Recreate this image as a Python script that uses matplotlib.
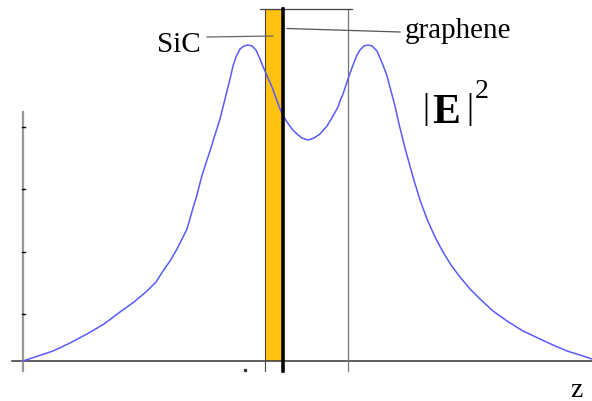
import numpy as np
import matplotlib.pyplot as plt

plt.rcParams['font.family'] = ['Liberation Serif', 'DejaVu Serif']

# field intensity profile across the structure (z in a.u., |E|^2 in a.u.)
z = np.array([0, 15, 30, 47, 64, 81, 97, 111, 124, 133, 140, 147, 154, 159, 164,
              170, 174, 178, 182, 187, 191, 197, 202, 207, 210, 213, 217, 221, 225,
              229, 233, 237, 241, 245, 249, 253, 257, 261, 264, 269, 274, 279, 285,
              291, 297, 304, 310, 315, 317, 320, 325, 330, 334, 337, 341, 345, 349,
              354, 360, 364, 368, 372, 376, 382, 390, 397, 404, 412, 420, 428, 437,
              447, 457, 470, 484, 500, 517, 530, 544, 557, 569])
E2 = np.array([0, 5, 10, 18, 27, 37, 49, 59, 70, 79, 90, 100, 112, 122, 132,
               153, 166, 182, 195, 210, 223, 242, 262, 282, 295, 304, 312, 315, 316,
               315, 311, 302, 292, 283, 274, 263, 252, 244, 239, 232, 227, 223, 221,
               223, 227, 235, 245, 254, 260, 267, 282, 296, 306, 311, 315, 316, 315,
               310, 296, 285, 270, 255, 237, 213, 184, 161, 142, 124, 109, 96, 84,
               72, 62, 50, 40, 30, 22, 16, 10, 6, 2])

sic_left, sic_right = 242, 258     # SiC slab
graphene_z = 260                    # graphene sheet
far_edge = 325                      # right boundary of the cell
top = 352
yticks = [47, 109, 172, 234]

fig = plt.figure(figsize=(5.92, 4.02), dpi=100)
ax = fig.add_axes([0, 0, 1, 1])
ax.set_xlim(-23, 569)
ax.set_ylim(-40, 362)
ax.axis('off')

# axes
ax.plot([-11, 569], [0, 0], color='#333333', lw=1.1, zorder=2)
ax.plot([0, 0], [-10, 249], color='#999999', lw=1.6, zorder=2)
for t in yticks:
    ax.plot([-1.5, 1.5], [t, t], color='black', lw=1, zorder=3)
ax.plot([222], [-9], marker='s', ms=1.5, color='#333333', zorder=3)

# SiC slab and cell boundaries
ax.fill_between([sic_left, sic_right], 0, top, color='#ffc20e', lw=0, zorder=1)
ax.plot([sic_left, sic_left], [-10, top], color='#444444', lw=0.8, zorder=3)
ax.plot([far_edge, far_edge], [-10, top], color='#777777', lw=0.9, zorder=3)
ax.plot([sic_left - 5, far_edge + 4], [top, top], color='#444444', lw=0.9, zorder=3)

# field profile
ax.plot(z, E2, color='#5a5aff', lw=1.1, zorder=4)

# graphene sheet
ax.plot([graphene_z, graphene_z], [-10, top], color='black', lw=2.6, zorder=5)

# labels
ax.plot([184, 250], [324, 325], color='#666666', lw=0.9, zorder=3)
ax.text(134, 310, 'SiC', fontsize=21, ha='left', va='baseline')
ax.plot([264, 377], [332.5, 329], color='#555555', lw=0.9, zorder=3)
ax.text(382, 324, 'graphene', fontsize=21, ha='left', va='baseline')

ax.text(399, 244, '|', fontsize=25, ha='left', va='baseline')
ax.text(409, 239, 'E', fontsize=30, fontweight='bold', ha='left', va='baseline')
ax.text(443, 244, '|', fontsize=25, ha='left', va='baseline')
ax.text(452, 264, '2', fontsize=20, ha='left', va='baseline')

ax.text(547, -35, 'z', fontsize=20, ha='left', va='baseline')

fig.savefig('out.png', dpi=100)
